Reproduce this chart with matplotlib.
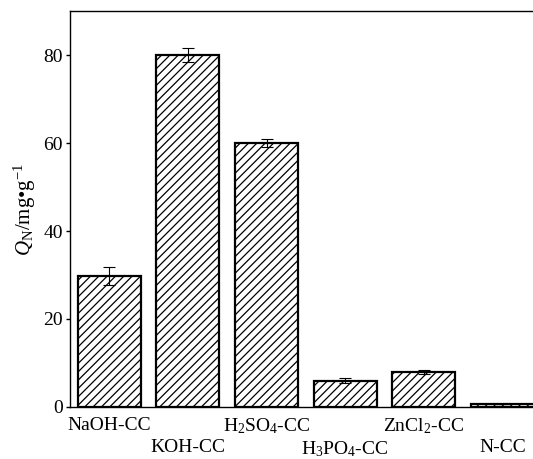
import matplotlib
matplotlib.use("Agg")
import matplotlib.pyplot as plt
import numpy as np

# adsorption capacity per carbon cloth sample
samples = ["NaOH-CC", "KOH-CC", "H$_2$SO$_4$-CC", "H$_3$PO$_4$-CC", "ZnCl$_2$-CC", "N-CC"]
q_n = [29.8, 80.0, 60.0, 6.0, 8.0, 0.6]
q_err = [2.1, 1.5, 1.0, 0.5, 0.4, 0.0]
y_ticks = [0, 20, 40, 60, 80]

plt.rcParams["font.family"] = ["Liberation Serif", "DejaVu Serif"]
plt.rcParams["mathtext.fontset"] = "custom"
plt.rcParams["mathtext.rm"] = "Liberation Serif"
plt.rcParams["mathtext.it"] = "Liberation Serif:italic"
plt.rcParams["hatch.linewidth"] = 0.9

fig = plt.figure(figsize=(5.33, 4.59), dpi=100)
ax = fig.add_axes([0.1313, 0.1133, 0.8687, 0.8627])

x = np.arange(len(samples))
ax.bar(x, q_n, width=0.8, color="white", edgecolor="black", linewidth=1.6,
       hatch="////", zorder=2)
ax.errorbar(x, q_n, yerr=q_err, fmt="none", ecolor="black", elinewidth=0.8,
            capsize=4, capthick=0.8, zorder=3)

ax.set_xlim(-0.5, 5.39)
ax.set_ylim(0, 90)
ax.set_yticks(y_ticks)
ax.tick_params(axis="y", direction="out", length=3, width=1, labelsize=14, pad=2)
ax.set_xticks(x)
ax.set_xticklabels(samples, fontsize=14)
ax.tick_params(axis="x", length=0, pad=7)
# stagger every second label onto a lower row
for i, t in enumerate(ax.xaxis.get_major_ticks()):
    if i % 2 == 1:
        t.set_pad(23)

ax.spines["right"].set_visible(False)
for s in ["left", "top", "bottom"]:
    ax.spines[s].set_linewidth(1.0)

ax.set_ylabel(r"$Q_\mathrm{N}$/mg•g$^{-1}$", fontsize=15, labelpad=4)

fig.savefig("out.png", dpi=100)
